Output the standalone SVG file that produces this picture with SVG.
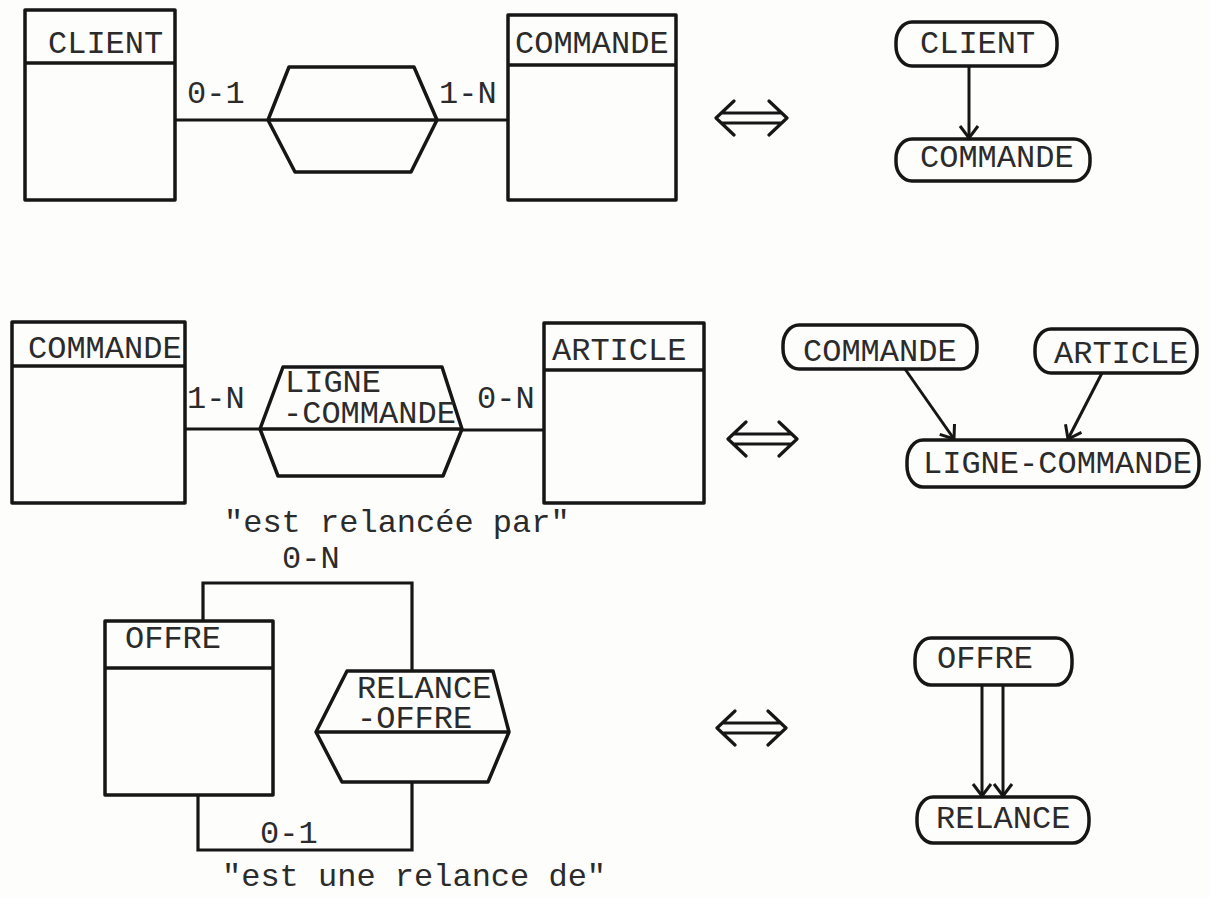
<svg xmlns="http://www.w3.org/2000/svg" width="1210" height="898" viewBox="0 0 1210 898">
<style>
.bg{fill:#fdfdfc}
.ent{fill:none;stroke:#161616;stroke-width:3.5;stroke-linejoin:round}
.rel{fill:none;stroke:#161616;stroke-width:3.5;stroke-linejoin:round}
.node{fill:none;stroke:#161616;stroke-width:3.5}
.ln{fill:none;stroke:#161616;stroke-width:3.2;stroke-linejoin:miter}
.arr{fill:none;stroke:#161616;stroke-width:3;marker-end:url(#hd)}
.eq{fill:none;stroke:#161616;stroke-width:3.2;stroke-linecap:round;stroke-linejoin:round}
text{font-family:"Liberation Mono","Courier New",monospace;font-size:32px;fill:#2b2b2b}
</style>
<defs>
<marker id="hd" markerUnits="userSpaceOnUse" markerWidth="30" markerHeight="30" viewBox="-15 -15 30 30" refX="0" refY="0" orient="auto">
<path d="M -12 -9 L 0 0 L -12 9" fill="none" stroke="#161616" stroke-width="3"/>
</marker>
</defs>
<rect class="bg" x="0" y="0" width="1210" height="898"/>

<!-- Row 1 -->
<g id="e-client">
<rect class="ent" x="25" y="10" width="150" height="190"/>
<line class="ent" x1="25" y1="63" x2="175" y2="63"/>
<text x="48" y="53">CLIENT</text>
</g>
<g id="r-client-commande">
<polygon class="rel" points="268,120 289,67 414,67 437,120 411,172 295,172"/>
<line class="rel" x1="268" y1="120" x2="437" y2="120"/>
</g>
<g id="e-commande-1">
<rect class="ent" x="508" y="15" width="168" height="185"/>
<line class="ent" x1="508" y1="65" x2="676" y2="65"/>
<text x="515" y="53">COMMANDE</text>
</g>
<g id="n-client">
<rect class="node" x="896" y="22" width="161" height="44" rx="16" ry="20"/>
<text x="920" y="53">CLIENT</text>
</g>
<g id="n-commande-1">
<rect class="node" x="896" y="139" width="194" height="42" rx="16" ry="19"/>
<text x="920" y="167">COMMANDE</text>
</g>

<!-- Row 2 -->
<g id="e-commande-2">
<rect class="ent" x="12" y="322" width="173" height="181"/>
<line class="ent" x1="12" y1="366" x2="185" y2="366"/>
<text x="28" y="358">COMMANDE</text>
</g>
<g id="r-ligne-commande">
<polygon class="rel" points="260,429 283,367 442,367 462,429 443,476 278,476"/>
<line class="rel" x1="260" y1="429" x2="462" y2="429"/>
<text x="285" y="392">LIGNE<tspan x="283" dy="31">-COMMANDE</tspan></text>
</g>
<g id="e-article">
<rect class="ent" x="544" y="323" width="160" height="180"/>
<line class="ent" x1="544" y1="370" x2="704" y2="370"/>
<text x="552" y="360">ARTICLE</text>
</g>
<g id="n-commande-2">
<rect class="node" x="783" y="325" width="194" height="44" rx="16" ry="20"/>
<text x="803" y="361">COMMANDE</text>
</g>
<g id="n-article">
<rect class="node" x="1035" y="329" width="162" height="44" rx="16" ry="20"/>
<text x="1054" y="363">ARTICLE</text>
</g>
<g id="n-ligne-commande">
<rect class="node" x="907" y="440" width="292" height="47" rx="16" ry="21"/>
<text x="923" y="473">LIGNE-COMMANDE</text>
</g>

<!-- Row 3 -->
<g id="e-offre">
<rect class="ent" x="105" y="621" width="168" height="174"/>
<line class="ent" x1="105" y1="668" x2="273" y2="668"/>
<text x="125" y="648">OFFRE</text>
</g>
<g id="r-relance-offre">
<polygon class="rel" points="316,732 347,671 493,671 509,732 488,782 342,782"/>
<line class="rel" x1="316" y1="732" x2="509" y2="732"/>
<text x="357" y="698">RELANCE<tspan x="357" dy="30">-OFFRE</tspan></text>
</g>
<g id="n-offre">
<rect class="node" x="915" y="638" width="157" height="47" rx="16" ry="21"/>
<text x="937" y="668">OFFRE</text>
</g>
<g id="n-relance">
<rect class="node" x="917" y="797" width="172" height="46" rx="16" ry="21"/>
<text x="936" y="828">RELANCE</text>
</g>

<!-- Connectors -->
<g id="connectors">
<line class="ln" x1="175" y1="120" x2="268" y2="120"/>
<line class="ln" x1="437" y1="120" x2="508" y2="120"/>
<line class="ln" x1="185" y1="429" x2="260" y2="429"/>
<line class="ln" x1="462" y1="430" x2="544" y2="430"/>
<path class="ln" d="M 203 621 L 203 583 L 412 583 L 412 671"/>
<path class="ln" d="M 198 795 L 198 850 L 412 850 L 412 782"/>
<line class="arr" x1="969" y1="66" x2="969" y2="138"/>
<line class="arr" x1="905" y1="369" x2="954" y2="439"/>
<line class="arr" x1="1102" y1="373" x2="1068" y2="439"/>
<line class="arr" x1="982" y1="685" x2="982" y2="796"/>
<line class="arr" x1="1003" y1="685" x2="1003" y2="796"/>
<path class="eq" d="M 734 101 L 716 118 L 734 135 M 722 113 L 781 113 M 722 123 L 781 123 M 769 101 L 787 118 L 769 135"/>
<path class="eq" d="M 746 422 L 728 439 L 746 456 M 734 434 L 791 434 M 734 444 L 791 444 M 779 422 L 797 439 L 779 456"/>
<path class="eq" d="M 735 711 L 717 728 L 735 745 M 723 723 L 780 723 M 723 733 L 780 733 M 768 711 L 786 728 L 768 745"/>
</g>

<g id="labels">
<text x="187" y="103">0-1</text>
<text x="439" y="103">1-N</text>
<text x="187" y="408">1-N</text>
<text x="477" y="408">0-N</text>
<text x="224" y="532">"est relancée par"</text>
<text x="282" y="568">0-N</text>
<text x="260" y="843">0-1</text>
<text x="222" y="886">"est une relance de"</text>
</g>
</svg>
